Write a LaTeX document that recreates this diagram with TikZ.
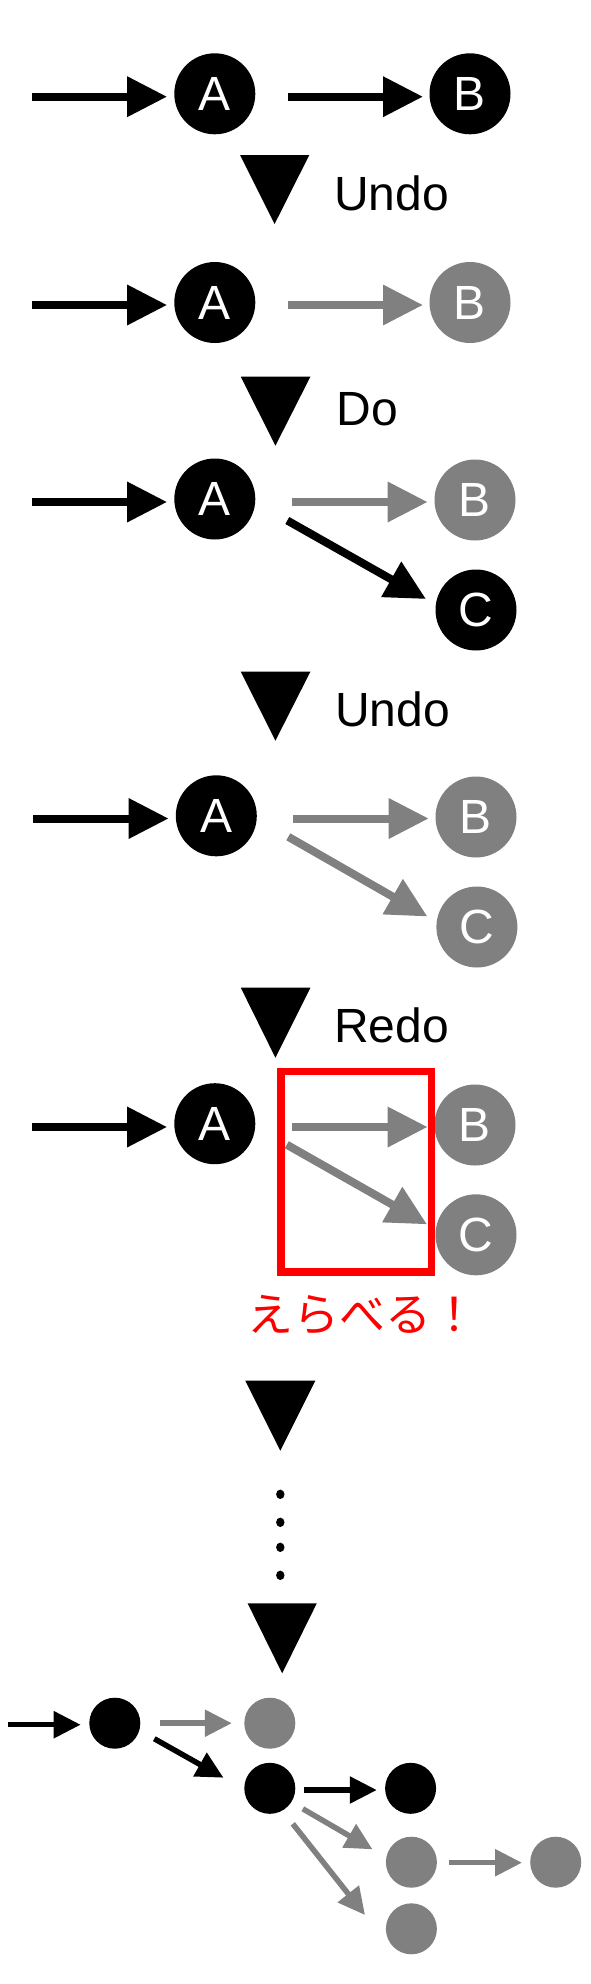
\documentclass[tikz,border=0pt]{standalone}
\usepackage{fontspec}
\setmainfont{Liberation Sans}
\newfontfamily\jpfont{Noto Sans CJK JP}
\usetikzlibrary{arrows.meta,calc}
\definecolor{ngray}{RGB}{128,128,128}
\definecolor{nred}{RGB}{255,0,0}
\begin{document}
\begin{tikzpicture}[x=1pt,y=1pt,
  bk/.style={circle,inner sep=0pt,minimum size=81pt,fill=black,text=white,font=\fontsize{48}{48}\selectfont},
  gy/.style={bk,fill=ngray},
  sbk/.style={circle,inner sep=0pt,minimum size=51pt,fill=black},
  sgy/.style={sbk,fill=ngray},
  bigarr/.style={line width=8pt,-{Triangle[length=40pt,width=38.6pt]}},
  smallarr/.style={line width=5.5pt,-{Triangle[length=27pt,width=26pt]}},
  lab/.style={inner sep=0pt,anchor=base west,font=\fontsize{48}{48}\selectfont},
  tri/.style={fill=black}
]
\fill[white] (0,0) rectangle (590,-1984);
\useasboundingbox (0,0) rectangle (590,-1984);

% ---- row 1
\node[bk] (A1) at (214.8,-93.8) {A};
\node[bk] (B1) at (470,-93.8) {B};
\coordinate (s1) at (32.4,-96.7);
\draw[bigarr,shorten >=7pt] (s1) -- (s1 -| A1.west);
\draw[bigarr,shorten <=32.1pt,shorten >=6.3pt] (A1.east |- s1) -- (B1.west |- s1);

\fill[tri] (240,-155) -- (309.3,-155) -- (274.6,-224) -- cycle;
\node[lab] (undo1) at (334,-210) {Undo};

% ---- row 2
\node[bk] (A2) at (214.8,-302.5) {A};
\node[gy] (B2) at (470,-302.5) {B};
\coordinate (s2) at (32.4,-305);
\draw[bigarr,shorten >=7pt] (s2) -- (s2 -| A2.west);
\draw[bigarr,ngray,shorten <=32.1pt,shorten >=6.3pt] (A2.east |- s2) -- (B2.west |- s2);

\fill[tri] (240.8,-376.7) -- (310.4,-376.7) -- (275.4,-445.7) -- cycle;
\node[lab] (do1) at (336.7,-425.7) {Do};

% ---- row 3
\node[bk] (A3) at (214.8,-499) {A};
\node[gy] (B3) at (475,-500) {B};
\node[bk] (C3) at (476,-610) {C};
\coordinate (s3) at (32.4,-502);
\draw[bigarr,shorten >=7pt] (s3) -- (s3 -| A3.west);
\draw[bigarr,ngray,shorten <=36.7pt,shorten >=6.7pt] (A3.east |- s3) -- (B3.west |- s3);
\draw[bigarr] ($(A3)+(72.5,-21.5)$) -- ($(C3)+(-50,11)$);

\fill[tri] (240.8,-671.7) -- (310.4,-671.7) -- (275.4,-740.7) -- cycle;
\node[lab] (undo2) at (334.8,-726.7) {Undo};

% ---- row 4
\node[bk] (A4) at (216.3,-815.8) {A};
\node[gy] (B4) at (476,-817) {B};
\node[gy] (C4) at (476.9,-927) {C};
\coordinate (s4) at (33,-818.5);
\draw[bigarr,shorten >=7pt] (s4) -- (s4 -| A4.west);
\draw[bigarr,ngray,shorten <=36.2pt,shorten >=6.6pt] (A4.east |- s4) -- (B4.west |- s4);
\draw[bigarr,ngray] ($(A4)+(72,-21)$) -- ($(C4)+(-49.5,10.5)$);

\fill[tri] (240.8,-987.7) -- (310.4,-987.7) -- (275.4,-1057.7) -- cycle;
\node[lab] (redo) at (334,-1042.3) {Redo};

% ---- row 5
\node[bk] (A5) at (214.8,-1123.7) {A};
\node[gy] (B5) at (475,-1125) {B};
\node[gy] (C5) at (476,-1234.8) {C};
\coordinate (s5) at (32.4,-1127);
\draw[bigarr,shorten >=7pt] (s5) -- (s5 -| A5.west);
\draw[bigarr,ngray,shorten <=36.7pt,shorten >=6.7pt] (A5.east |- s5) -- (B5.west |- s5);
\draw[bigarr,ngray] ($(A5)+(72,-21)$) -- ($(C5)+(-49,10.5)$);

\node[draw=nred,line width=7.5pt,minimum width=150.5pt,minimum height=200.1pt,inner sep=0pt] (box) at (356.15,-1171.75) {};
\node[inner sep=0pt,anchor=base west,text=nred,font=\jpfont\fontsize{46}{46}\selectfont] (pick) at (247,-1331) {えらべる！};

% ---- continuation
\fill[tri] (245.3,-1380.7) -- (315.3,-1380.7) -- (280.3,-1450.7) -- cycle;
\foreach \yy in {1494.3,1522.3,1547.3,1575.3}
  \fill (280.3,-\yy) ellipse [x radius=4.2, y radius=4.7];
\fill[tri] (247.6,-1603.3) -- (316.8,-1603.3) -- (282.2,-1673.3) -- cycle;

% ---- small graph
\node[sbk] (n1) at (114.8,-1723.2) {};
\node[sgy] (n2) at (269.8,-1723.2) {};
\node[sbk] (n3) at (269.8,-1788.3) {};
\node[sbk] (n4) at (410.6,-1788.3) {};
\node[sgy] (n5) at (411.4,-1862.2) {};
\node[sgy] (n6) at (555.7,-1862.2) {};
\node[sgy] (n7) at (411.4,-1928.8) {};
\coordinate (s6) at (7.5,-1724.7);
\draw[smallarr,shorten >=8.4pt] (s6) -- (s6 -| n1.west);
\draw[smallarr,ngray,shorten <=19.7pt,shorten >=12.3pt] (n1.east) -- (n2.west);
\draw[smallarr] ($(n1)+(39.5,-15.5)$) -- ($(n3)+(-46.3,10.6)$);
\draw[smallarr,shorten <=8.7pt,shorten >=8.1pt] ([yshift=-1.7pt]n3.east) -- ([yshift=-1.7pt]n4.west);
\draw[smallarr,ngray] ($(n3)+(33,-20.5)$) -- ($(n5)+(-38.9,12.9)$);
\draw[smallarr,ngray,shorten <=11.9pt,shorten >=8pt] ([yshift=-0.5pt]n5.east) -- ([yshift=-0.5pt]n6.west);
\draw[smallarr,ngray] ($(n3)+(23,-35.5)$) -- ($(n7)+(-46.4,13.8)$);
\end{tikzpicture}
\end{document}
